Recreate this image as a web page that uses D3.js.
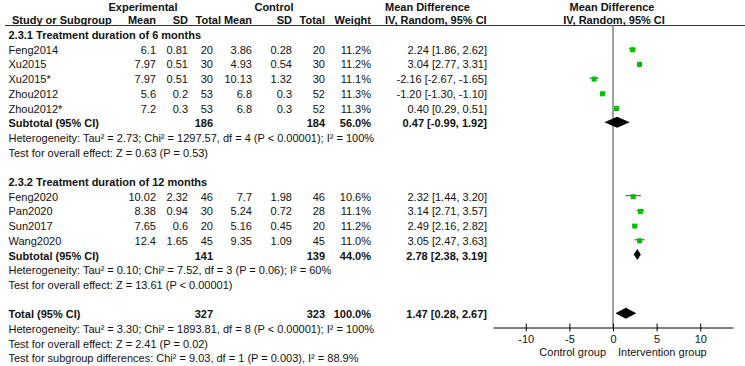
<!DOCTYPE html>
<html>
<head>
<meta charset="utf-8">
<script src="https://cdn.jsdelivr.net/npm/d3@7"></script>
<style>
  body { margin: 0; background: #fff; }
  svg { display: block; font-family: "Liberation Sans", Arial, sans-serif; }
</style>
</head>
<body>
<svg id="chart" width="745" height="366"></svg>
<script>
// study rows, two subgroups
const studies = ['Feng2014', 'Xu2015', 'Xu2015*', 'Zhou2012', 'Zhou2012*', 'Feng2020', 'Pan2020', 'Sun2017', 'Wang2020']
const group = [1, 1, 1, 1, 1, 2, 2, 2, 2]
const expMean = ['6.1', '7.97', '7.97', '5.6', '7.2', '10.02', '8.38', '7.65', '12.4']
const expSD = ['0.81', '0.51', '0.51', '0.2', '0.3', '2.32', '0.94', '0.6', '1.65']
const expN = [20, 30, 30, 53, 53, 46, 30, 20, 45]
const ctlMean = ['3.86', '4.93', '10.13', '6.8', '6.8', '7.7', '5.24', '5.16', '9.35']
const ctlSD = ['0.28', '0.54', '1.32', '0.3', '0.3', '1.98', '0.72', '0.45', '1.09']
const ctlN = [20, 30, 30, 52, 52, 46, 28, 20, 45]
const weight = ['11.2%', '11.2%', '11.1%', '11.3%', '11.3%', '10.6%', '11.1%', '11.2%', '11.0%']
const md = [2.24, 3.04, -2.16, -1.20, 0.40, 2.32, 3.14, 2.49, 3.05]
const lo = [1.86, 2.77, -2.67, -1.30, 0.29, 1.44, 2.71, 2.16, 2.47]
const hi = [2.62, 3.31, -1.65, -1.10, 0.51, 3.20, 3.57, 2.82, 3.63]

// pooled estimates: subtotal 1, subtotal 2, total
const pooledLabel = ['Subtotal (95% CI)', 'Subtotal (95% CI)', 'Total (95% CI)']
const pooledExpN = [186, 141, 327]
const pooledCtlN = [184, 139, 323]
const pooledWeight = ['56.0%', '44.0%', '100.0%']
const pooledMd = [0.47, 2.78, 1.47]
const pooledLo = [-0.99, 2.38, 0.28]
const pooledHi = [1.92, 3.19, 2.67]

const groupTitles = ['2.3.1 Treatment duration of 6 months', '2.3.2 Treatment duration of 12 months']
const notes1 = [
  'Heterogeneity: Tau\u00b2 = 2.73; Chi\u00b2 = 1297.57, df = 4 (P < 0.00001); I\u00b2 = 100%',
  'Test for overall effect: Z = 0.63 (P = 0.53)',
]
const notes2 = [
  'Heterogeneity: Tau\u00b2 = 0.10; Chi\u00b2 = 7.52, df = 3 (P = 0.06); I\u00b2 = 60%',
  'Test for overall effect: Z = 13.61 (P < 0.00001)',
]
const notesTotal = [
  'Heterogeneity: Tau\u00b2 = 3.30; Chi\u00b2 = 1893.81, df = 8 (P < 0.00001); I\u00b2 = 100%',
  'Test for overall effect: Z = 2.41 (P = 0.02)',
  'Test for subgroup differences: Chi\u00b2 = 9.03, df = 1 (P = 0.003), I\u00b2 = 88.9%',
]
const tickValues = [-10, -5, 0, 5, 10]

const fmt = (v) => v.toFixed(2)
const ciText = (m, l, h) => `${fmt(m)} [${fmt(l)}, ${fmt(h)}]`

const svg = d3.select('#chart')
const rowY = (i) => 35 + 14.7 * i
const x = d3.scaleLinear().domain([-13.75, 13.75]).range([493, 733])
const axisY = 327.5
const textX = 8.5

// text helper
function txt(str, xPos, y, anchor = 'start', bold = false) {
  svg.append('text')
    .attr('x', xPos)
    .attr('y', y + 4)
    .attr('text-anchor', anchor)
    .attr('font-size', 11)
    .attr('font-weight', bold ? 'bold' : 'normal')
    .attr('fill', '#111')
    .text(str)
}

// column right edges
const col = { em: 156, esd: 188, en: 213, cm: 252, csd: 292, cn: 325, w: 371, ci: 487 }

// headers
txt('Experimental', 143, 7, 'middle', true)
txt('Control', 274, 7, 'middle', true)
txt('Mean Difference', 385, 7, 'start', true)
txt('Mean Difference', 612, 7, 'middle', true)
txt('Study or Subgroup', 12, 20, 'start', true)
txt('Mean', col.em, 20, 'end', true)
txt('SD', col.esd, 20, 'end', true)
txt('Total', 221, 20, 'end', true)
txt('Mean', col.cm, 20, 'end', true)
txt('SD', col.csd, 20, 'end', true)
txt('Total', col.cn, 20, 'end', true)
txt('Weight', col.w, 20, 'end', true)
txt('IV, Random, 95% CI', 385, 20, 'start', true)
txt('IV, Random, 95% CI', 614, 20, 'middle', true)

svg.append('line')
  .attr('x1', 5).attr('x2', 745)
  .attr('y1', 25.5).attr('y2', 25.5)
  .attr('stroke', '#333').attr('stroke-width', 1)

// row layout
const rows = []
let r = 0
;[1, 2].forEach((g, gi) => {
  rows.push({ type: 'title', i: r++, text: groupTitles[gi] })
  studies.forEach((s, k) => { if (group[k] === g) rows.push({ type: 'study', i: r++, k }) })
  rows.push({ type: 'pooled', i: r++, k: gi })
  ;(gi === 0 ? notes1 : notes2).forEach((n) => rows.push({ type: 'note', i: r++, text: n }))
  r++
})
rows.push({ type: 'pooled', i: r++, k: 2 })
notesTotal.forEach((n) => rows.push({ type: 'note', i: r++, text: n }))

// zero line
svg.append('line')
  .attr('x1', x(0)).attr('x2', x(0))
  .attr('y1', 25.5).attr('y2', axisY)
  .attr('stroke', '#8a8a8a').attr('stroke-width', 1.6)

rows.forEach((row) => {
  const y = rowY(row.i)
  if (row.type === 'title') txt(row.text, textX, y, 'start', true)
  if (row.type === 'note') txt(row.text, textX, y)
  if (row.type === 'study') {
    const k = row.k
    txt(studies[k], textX, y)
    txt(expMean[k], col.em, y, 'end')
    txt(expSD[k], col.esd, y, 'end')
    txt(expN[k], col.en, y, 'end')
    txt(ctlMean[k], col.cm, y, 'end')
    txt(ctlSD[k], col.csd, y, 'end')
    txt(ctlN[k], col.cn, y, 'end')
    txt(weight[k], col.w, y, 'end')
    txt(ciText(md[k], lo[k], hi[k]), col.ci, y, 'end')
    svg.append('line')
      .attr('x1', x(lo[k])).attr('x2', x(hi[k]))
      .attr('y1', y - 1).attr('y2', y - 1)
      .attr('stroke', '#444').attr('stroke-width', 1)
    svg.append('rect')
      .attr('x', x(md[k]) - 2.5).attr('y', y - 2.5)
      .attr('width', 5).attr('height', 5)
      .attr('fill', '#00c000')
  }
  if (row.type === 'pooled') {
    const k = row.k
    txt(pooledLabel[k], textX, y, 'start', true)
    txt(pooledExpN[k], col.en, y, 'end', true)
    txt(pooledCtlN[k], col.cn, y, 'end', true)
    txt(pooledWeight[k], col.w, y, 'end', true)
    txt(ciText(pooledMd[k], pooledLo[k], pooledHi[k]), col.ci, y, 'end', true)
    const h = 5.5
    const pts = [
      [x(pooledLo[k]), y - 1], [x(pooledMd[k]), y - 1 - h],
      [x(pooledHi[k]), y - 1], [x(pooledMd[k]), y - 1 + h],
    ]
    svg.append('polygon')
      .attr('points', pts.map((p) => p.join(',')).join(' '))
      .attr('fill', '#000')
  }
})

// x axis
const axis = d3.axisBottom(x)
  .tickValues(tickValues)
  .tickFormat((d) => String(d))
  .tickSize(4)
  .tickSizeOuter(0)
const axisG = svg.append('g')
  .attr('transform', `translate(0,${axisY})`)
  .call(axis)
axisG.select('.domain').attr('stroke', '#000')
axisG.selectAll('.tick line').attr('y1', -4).attr('y2', 4).attr('stroke', '#000')
axisG.selectAll('.tick text')
  .attr('y', 8)
  .attr('font-size', 11)
  .attr('font-family', '"Liberation Sans", Arial, sans-serif')
  .attr('fill', '#111')

txt('Control group', x(0) - 7, 352, 'end')
txt('Intervention group', x(0) + 5, 352, 'start')
</script>
</body>
</html>
